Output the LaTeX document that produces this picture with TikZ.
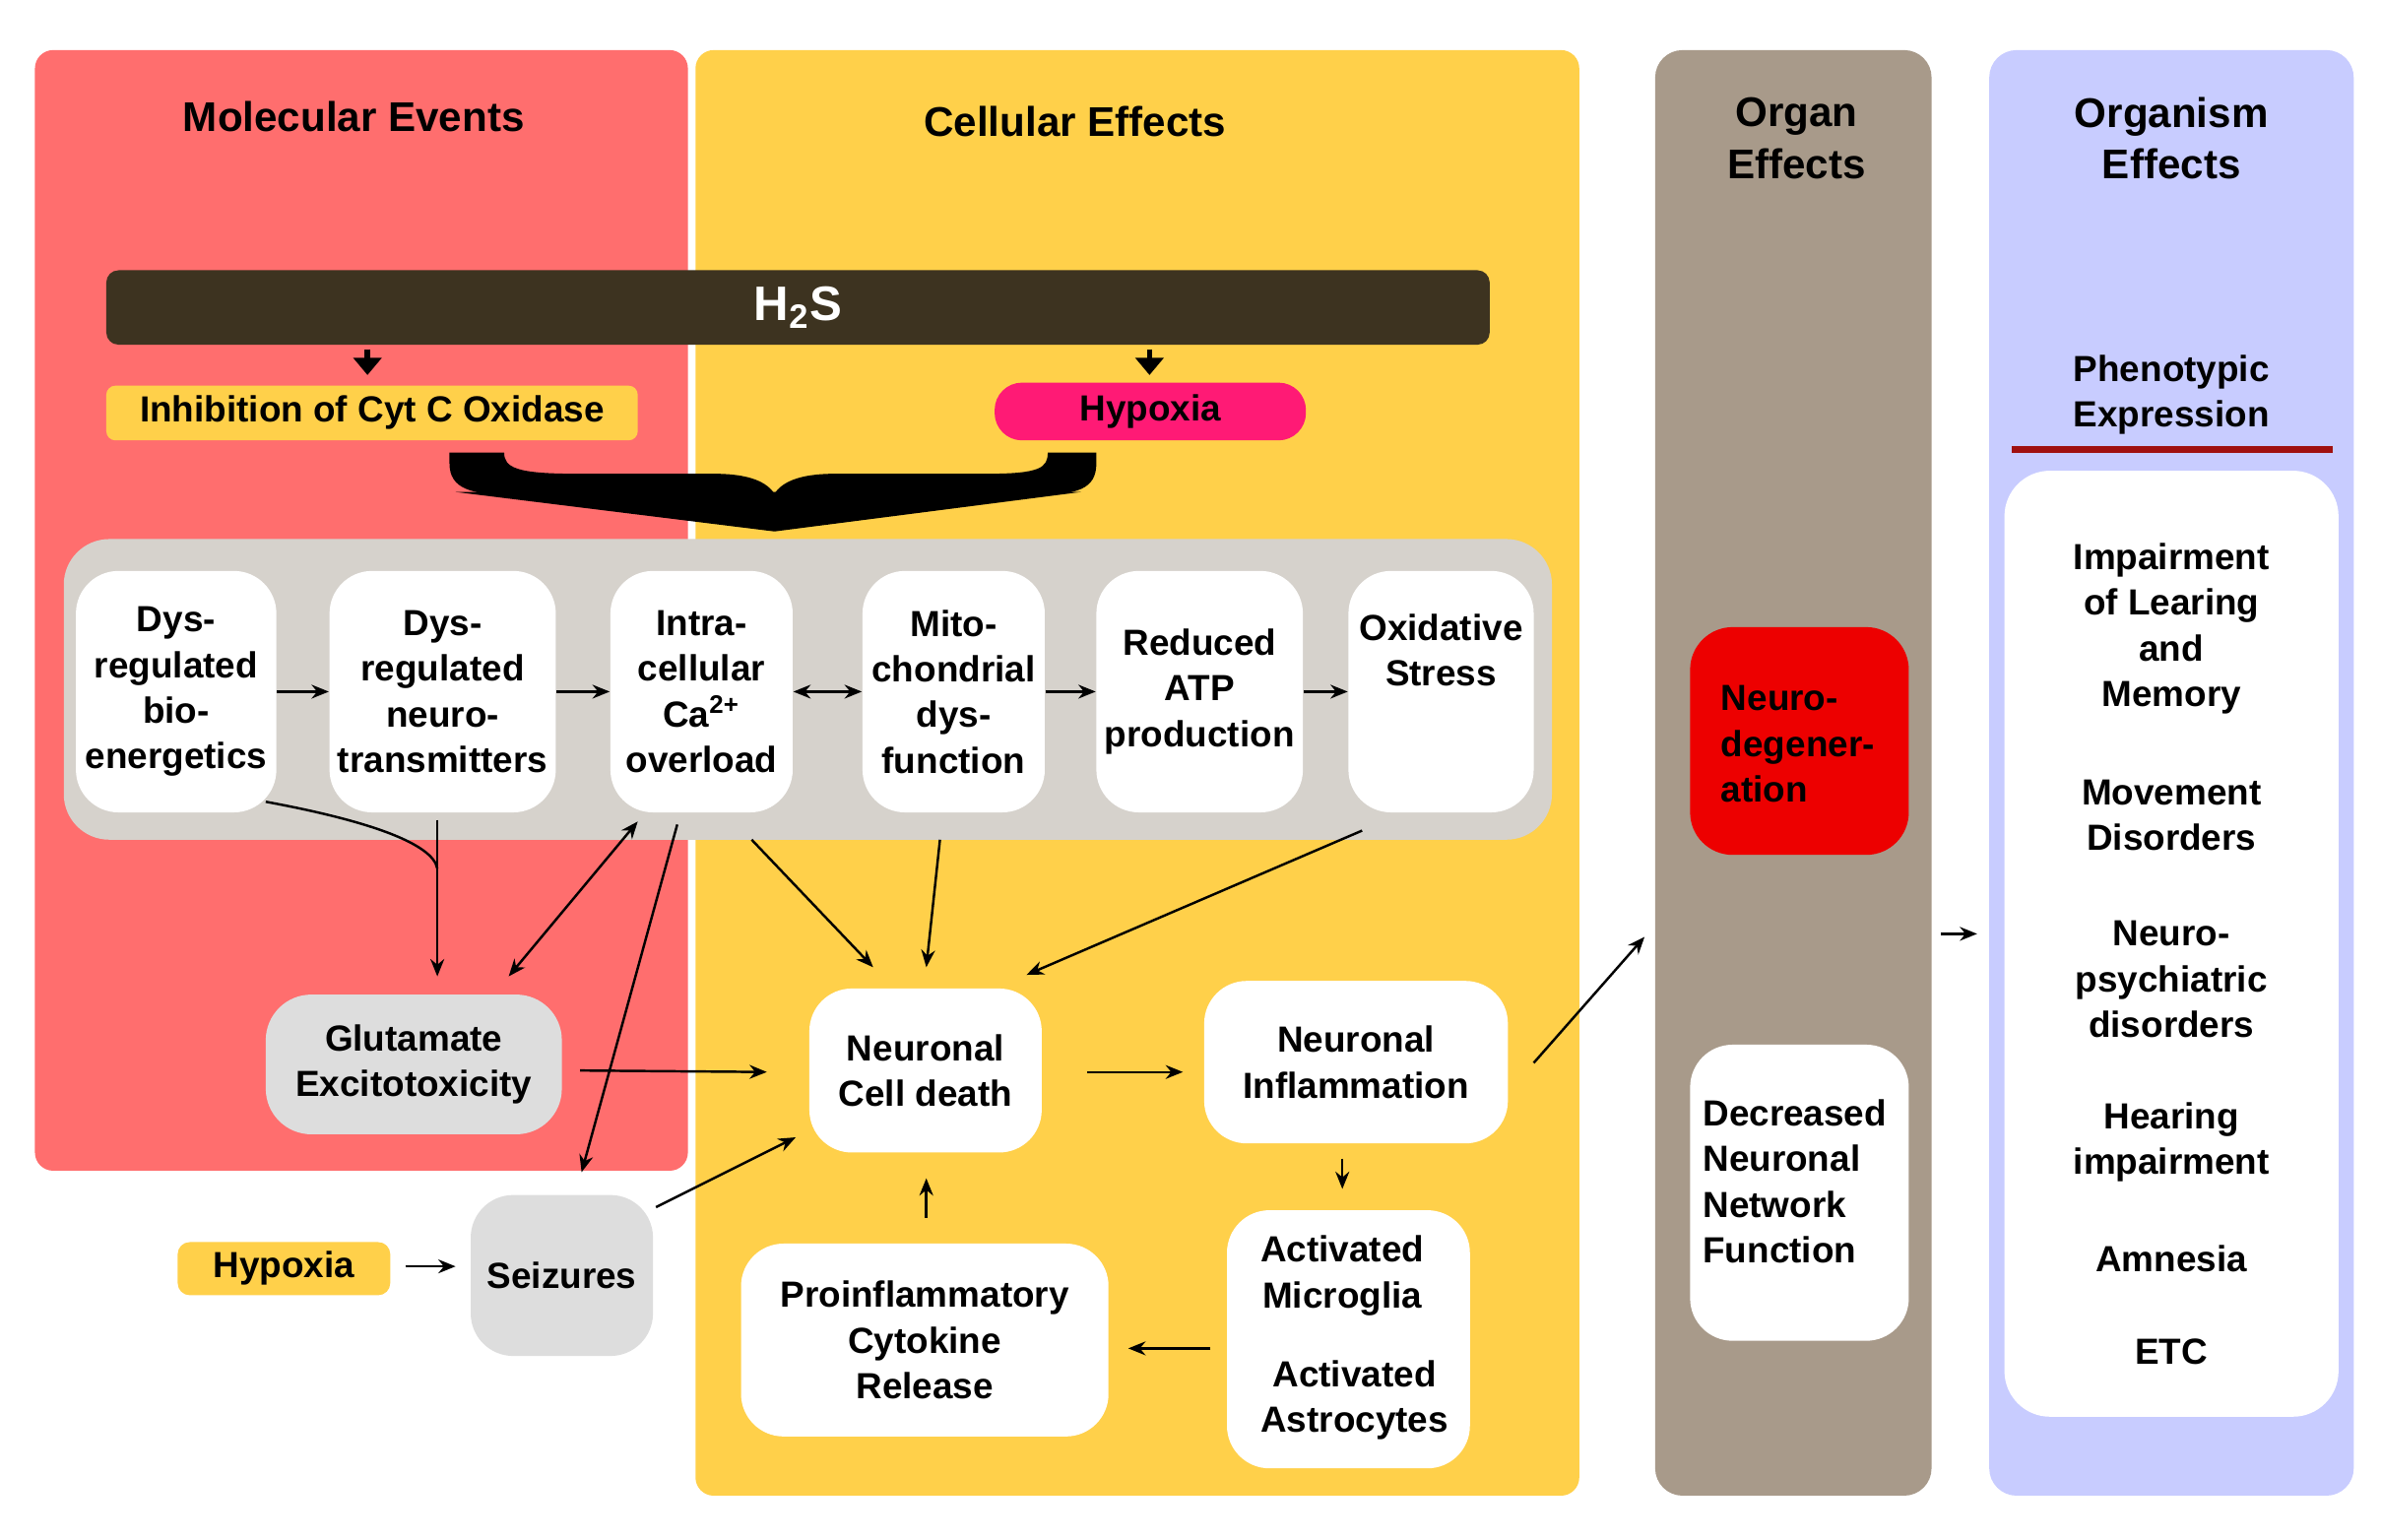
\documentclass[tikz,border=0pt]{standalone}
\usepackage{fontspec}
\setmainfont{Liberation Sans}
\usetikzlibrary{arrows.meta}
\definecolor{cred}{HTML}{FF6E6E}
\definecolor{cyel}{HTML}{FFD04A}
\definecolor{cbrn}{HTML}{A89A8A}
\definecolor{clav}{HTML}{C8CCFF}
\definecolor{cbar}{HTML}{3D3320}
\definecolor{cpink}{HTML}{FF1A75}
\definecolor{cgray}{HTML}{D6D2CC}
\definecolor{cglu}{HTML}{DDDDDD}
\definecolor{cline}{HTML}{A01010}
\begin{document}
\def\u{0.015421cm}
\begin{tikzpicture}[x=\u,y=-\u,
  txt/.style={font=\fontsize{10.5}{13.2}\selectfont\bfseries,align=center,inner sep=0},
  hdr/.style={font=\fontsize{12}{15}\selectfont\bfseries,align=center,inner sep=0},
  arr/.style={-{Stealth[length=5pt,width=4pt]},line width=0.7pt,black},
  darr/.style={{Stealth[length=5pt,width=4pt]}-{Stealth[length=5pt,width=4pt]},line width=0.7pt,black},
  dn/.style={-{Triangle[length=5pt,width=8pt]},line width=1.6pt,black}]
\useasboundingbox (0,0) rectangle (1568,1014);
\fill[white] (0,0) rectangle (1568,1014);
% panels
\fill[cred,rounded corners=12*\u] (23,33) rectangle (453,771);
\fill[cyel,rounded corners=12*\u] (458,33) rectangle (1040,985);
\fill[cbrn,rounded corners=18*\u] (1090,33) rectangle (1272,985);
\fill[clav,rounded corners=18*\u] (1310,33) rectangle (1550,985);
\node[hdr] (h1) at (233,77) {Molecular Events};
\node[hdr] (h2) at (708,80) {Cellular Effects};
\node[hdr] (h3) at (1183,91) {Organ\\Effects};
\node[hdr] (h4) at (1430,91) {Organism\\Effects};
% H2S
\node[fill=cbar,rounded corners=8*\u,minimum width={911*\u},minimum height={49*\u},inner sep=0,text=white,font=\fontsize{14}{16}\selectfont\bfseries] (h2s) at (525.5,202.5) {H\textsubscript{2}S};
\node[txt,fill=cyel,rounded corners=6*\u,minimum width={350*\u},minimum height={36*\u}] (inh) at (245,272) {Inhibition of Cyt C Oxidase};
\node[txt,fill=cpink,rounded corners=18*\u,minimum width={205*\u},minimum height={38*\u}] (hyp1) at (757.5,271) {Hypoxia};
\coordinate (a1) at (242,230); \coordinate (a2) at (757,230);
\draw[dn] (a1) -- (242,247);
\draw[dn] (a2) -- (757,247);
% brace
\fill[black] (296,298) -- (332,298) .. controls (332,308) and (340,312) .. (380,312) -- (470,312) .. controls (495,312) and (505,318) .. (510,325) .. controls (515,318) and (525,312) .. (550,312) -- (650,312) .. controls (685,312) and (690,308) .. (690,298) -- (722,298) -- (722,305) .. controls (722,322) and (710,326) .. (680,326) -- (340,326) .. controls (310,326) and (296,322) .. (296,305) -- cycle;
\fill[black] (300,324) -- (712,324) -- (510,350) -- cycle;
% gray container
\fill[cgray,rounded corners=30*\u] (42,355) rectangle (1022,553);
\tikzset{wb/.style={txt,fill=white,rounded corners=28*\u}}
\node[wb,minimum width={132*\u},minimum height={159*\u}] (b1) at (116,455.5) {Dys-\\regulated\\bio-\\energetics};
\node[wb,minimum width={149*\u},minimum height={159*\u}] (b2) at (291.5,455.5) {Dys-\\regulated\\neuro-\\transmitters};
\node[wb,minimum width={120*\u},minimum height={159*\u}] (b3) at (462,455.5) {Intra-\\cellular\\Ca\textsuperscript{2+}\\overload};
\node[wb,minimum width={120*\u},minimum height={159*\u}] (b4) at (628,455.5) {Mito-\\chondrial\\dys-\\function};
\node[wb,minimum width={136*\u},minimum height={159*\u}] (b5) at (790,455.5) {Reduced\\ATP\\production};
\node[wb,minimum width={122*\u},minimum height={159*\u}] (b6) at (949,455.5) {};
\node[txt] (b6t) at (949,428) {Oxidative\\Stress};
\draw[arr] (b1) -- (b2);
\draw[arr] (b2) -- (b3);
\draw[darr] (b3) -- (b4);
\draw[arr] (b4) -- (b5);
\draw[arr] (b5) -- (b6);
% lower nodes
\node[txt,fill=cglu,rounded corners=30*\u,minimum width={195*\u},minimum height={92*\u}] (glu) at (272.5,701) {Glutamate\\Excitotoxicity};
\node[wb,minimum width={153*\u},minimum height={108*\u}] (ncd) at (609.5,705) {Neuronal\\Cell death};
\node[wb,minimum width={200*\u},minimum height={107*\u}] (ninf) at (893,699.5) {Neuronal\\Inflammation};
\node[wb,minimum width={160*\u},minimum height={170*\u}] (act) at (888,882) {};
\node[txt] (actm) at (884,840) {Activated\\Microglia};
\node[txt] (acta) at (892,922) {Activated\\Astrocytes};
\node[wb,minimum width={242*\u},minimum height={127*\u}] (cyt) at (609,882.5) {Proinflammatory\\Cytokine\\Release};
\node[txt,fill=cglu,rounded corners=28*\u,minimum width={120*\u},minimum height={106*\u}] (sei) at (370,840) {Seizures};
\node[txt,fill=cyel,rounded corners=8*\u,minimum width={140*\u},minimum height={35*\u}] (hyp2) at (187,835.5) {Hypoxia};
% organ
\node[txt,fill=red!93!black,rounded corners=28*\u,minimum width={144*\u},minimum height={150*\u},text=black!85] (neu) at (1185,488) {};
\node[txt,align=left,anchor=west] (neut) at (1133,490) {Neuro-\\degener-\\ation};
\node[wb,minimum width={144*\u},minimum height={195*\u}] (dec) at (1185,785.5) {};
\node[txt,align=left,anchor=west] (dect) at (1121,778) {Decreased\\Neuronal\\Network\\Function};
% organism
\node[txt] (phe) at (1430,260) {Phenotypic\\Expression};
\coordinate (l1) at (1325,296); \coordinate (l2) at (1536,296);
\draw[cline,line width=1.8pt] (l1) -- (l2);
\fill[white,rounded corners=30*\u] (1320,310) rectangle (1540,933);
\node[txt] (o1) at (1430,414) {Impairment\\of Learing\\and\\Memory};
\node[txt] (o2) at (1430,537) {Movement\\Disorders};
\node[txt] (o3) at (1430,645) {Neuro-\\psychiatric\\disorders};
\node[txt] (o4) at (1430,752) {Hearing\\impairment};
\node[txt] (o5) at (1430,829) {Amnesia};
\node[txt] (o6) at (1430,890) {ETC};
% connectors
\coordinate (c1) at (175,528);
\coordinate (j) at (288,572);
\draw[line width=0.7pt] (c1) .. controls (240,540) and (285,555) .. (j);
\draw[arr] (288,540) -- (288,643);
\draw[darr] (335,643) -- (420,541);
\draw[arr] (446,543) -- (383,772);
\draw[arr] (495,553) -- (575,637);
\draw[arr] (619,553) -- (610,637);
\draw[arr] (897,547) -- (676,642);
\draw[arr] (382,705) -- (505,706);
\draw[arr] (432,795) -- (524,749);
\draw[arr] (716,706) -- (779,706);
\draw[arr] (884,763) -- (884,783);
\draw[arr] (797,888) -- (743,888);
\draw[arr] (610,802) -- (610,776);
\draw[arr] (1010,700) -- (1083,617);
\draw[arr] (267,834) -- (300,834);
\draw[arr] (1278,615) -- (1302,615);
\end{tikzpicture}
\end{document}
